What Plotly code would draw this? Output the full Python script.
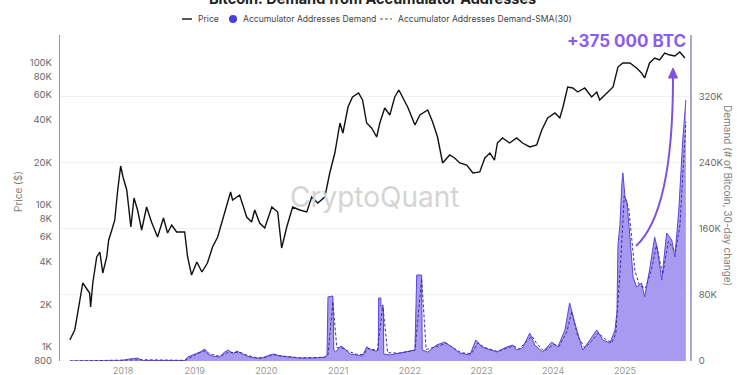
import plotly.graph_objects as go

# ---------------- data ----------------
price_dates = [
    "2017-04-05", "2017-04-30", "2017-05-15", "2017-06-10", "2017-07-15", "2017-07-20", "2017-07-31",
    "2017-08-20", "2017-09-05", "2017-09-20", "2017-10-10", "2017-10-20", "2017-11-05", "2017-11-20",
    "2017-12-05", "2017-12-20", "2018-01-01", "2018-01-20", "2018-02-10", "2018-02-26", "2018-03-16",
    "2018-04-06", "2018-05-01", "2018-05-26", "2018-06-26", "2018-07-26", "2018-08-16", "2018-09-06",
    "2018-10-01", "2018-11-11", "2018-11-26", "2018-12-16", "2019-01-12", "2019-02-07", "2019-03-07",
    "2019-04-02", "2019-04-28", "2019-05-23", "2019-07-03", "2019-07-13", "2019-08-18", "2019-09-23",
    "2019-10-18", "2019-11-03", "2019-11-28", "2019-12-24", "2020-01-29", "2020-02-28", "2020-03-19",
    "2020-04-14", "2020-05-14", "2020-06-19", "2020-07-25", "2020-08-19", "2020-09-19", "2020-10-25",
    "2020-11-19", "2020-12-15", "2021-01-10", "2021-01-25", "2021-02-20", "2021-03-15", "2021-04-15",
    "2021-05-05", "2021-05-26", "2021-06-20", "2021-07-16", "2021-08-01", "2021-08-26", "2021-09-21",
    "2021-10-16", "2021-11-06", "2021-11-26", "2021-12-21", "2022-01-27", "2022-02-21", "2022-04-02",
    "2022-04-27", "2022-05-22", "2022-06-17", "2022-07-23", "2022-08-17", "2022-09-12", "2022-10-18",
    "2022-11-18", "2022-12-23", "2023-01-18", "2023-02-13", "2023-03-08", "2023-03-23", "2023-04-18",
    "2023-05-24", "2023-06-29", "2023-07-29", "2023-09-04", "2023-10-09", "2023-11-04", "2023-12-04",
    "2024-01-10", "2024-02-04", "2024-02-20", "2024-03-15", "2024-04-10", "2024-05-05", "2024-06-10",
    "2024-07-15", "2024-08-10", "2024-08-25", "2024-10-01", "2024-11-01", "2024-11-26", "2024-12-21",
    "2025-01-26", "2025-03-01", "2025-03-26", "2025-04-11", "2025-05-06", "2025-06-01", "2025-06-26",
    "2025-07-22", "2025-08-17", "2025-09-12", "2025-10-07", "2025-11-02",
]
price_values = [
    1120, 1317, 1735, 2823, 2400, 1912, 2823,
    4303, 4667, 3320, 4303, 5668, 6667, 7842,
    12754, 18820, 15750, 12754, 7000, 11200, 9222,
    6667, 9680, 7591, 5953, 8100, 6352, 7232,
    6456, 6456, 4303, 3214, 3968, 3374, 3904,
    5060, 5953, 7842, 12345, 10844, 11760, 8231,
    7591, 9222, 7469, 6887, 9680, 8928, 4980,
    7000, 9680, 9222, 8928, 11384, 10330, 11384,
    16805, 23240, 37800, 32140, 48990, 57620, 61480,
    54880, 37800, 34850, 30120, 37800, 48200, 43040,
    57620, 64540, 57620, 48990, 36600, 43040, 46670,
    38420, 30120, 19760, 22500, 21430, 19760, 19130,
    16805, 17080, 21430, 23240, 20740, 27330, 29640,
    27330, 29640, 27330, 25620, 26450, 33750, 41000,
    44450, 41000, 48990, 67760, 66680, 62500, 66680,
    57620, 62500, 54880, 61480, 67760, 93700, 100000,
    100000, 92200, 85050, 78420, 100000, 108400, 105000,
    117600, 113800, 112000, 119500, 108400,
]

demand_dates = [
    "2017-04-05", "2017-12-16", "2018-02-05", "2018-03-16", "2018-04-11", "2018-11-11", "2018-11-26",
    "2019-01-02", "2019-01-28", "2019-02-22", "2019-03-07", "2019-04-02", "2019-05-08", "2019-06-02",
    "2019-06-23", "2019-07-13", "2019-08-03", "2019-08-23", "2019-09-23", "2019-11-03", "2019-12-09",
    "2020-01-19", "2020-02-08", "2020-03-09", "2020-04-29", "2020-06-19", "2020-09-04", "2020-10-25",
    "2020-11-05", "2020-11-10", "2020-12-05", "2020-12-10", "2020-12-19", "2021-01-15", "2021-02-05",
    "2021-03-01", "2021-04-05", "2021-05-05", "2021-05-26", "2021-06-20", "2021-07-11", "2021-07-24",
    "2021-07-26", "2021-08-06", "2021-08-07", "2021-08-19", "2021-08-21", "2021-09-21", "2021-11-11",
    "2022-01-01", "2022-01-27", "2022-02-05", "2022-03-02", "2022-03-05", "2022-04-02", "2022-05-17",
    "2022-06-27", "2022-08-02", "2022-09-12", "2022-11-03", "2022-12-03", "2023-01-03", "2023-02-13",
    "2023-03-18", "2023-05-09", "2023-06-09", "2023-06-29", "2023-07-29", "2023-09-04", "2023-09-29",
    "2023-11-09", "2023-12-25", "2024-01-25", "2024-03-01", "2024-03-25", "2024-04-20", "2024-05-31",
    "2024-07-05", "2024-08-10", "2024-09-10", "2024-10-16", "2024-11-11", "2024-11-21", "2024-11-26",
    "2024-12-06", "2024-12-16", "2024-12-21", "2025-01-01", "2025-01-11", "2025-01-26", "2025-02-11",
    "2025-03-01", "2025-03-26", "2025-04-11", "2025-05-06", "2025-06-01", "2025-06-16", "2025-07-07",
    "2025-08-01", "2025-08-27", "2025-09-12", "2025-10-02", "2025-10-22", "2025-11-07",
]
demand_values = [
    0, 300, 2400, 3600, 500, 500, 4800,
    8500, 10900, 14500, 8500, 6000, 4800, 10900,
    13300, 8500, 12100, 9700, 6000, 3600, 3600,
    7300, 8500, 6000, 4800, 3600, 3600, 4800,
    7300, 77600, 78800, 13300, 10900, 18200, 14500,
    8500, 7300, 6000, 17000, 13300, 12100, 13300,
    76400, 76400, 65500, 65500, 8500, 7300, 9700,
    12100, 13300, 104200, 104200, 13300, 10900, 19400,
    23000, 17000, 9700, 7300, 25500, 17000, 13300,
    10900, 17000, 19400, 13300, 15800, 33900, 19400,
    10900, 23000, 17000, 37600, 70300, 46100, 13300,
    25500, 37600, 25500, 21800, 37600, 60000, 140000,
    165000, 215000, 228000, 198800, 192700, 150300, 101800,
    89700, 94500, 77600, 110300, 150300, 134500, 98000,
    155100, 146700, 126000, 183000, 267900, 316300,
]

sma_dates = [
    "2017-04-05", "2018-02-20", "2018-04-20", "2018-11-15", "2018-12-10", "2019-01-15", "2019-02-25",
    "2019-03-20", "2019-05-10", "2019-06-25", "2019-07-20", "2019-08-15", "2019-09-30", "2019-11-15",
    "2019-12-20", "2020-02-05", "2020-03-20", "2020-06-19", "2020-10-25", "2020-11-10", "2020-12-05",
    "2020-12-25", "2021-01-20", "2021-02-15", "2021-04-05", "2021-05-10", "2021-06-01", "2021-07-20",
    "2021-08-16", "2021-09-10", "2021-11-11", "2022-01-27", "2022-03-02", "2022-03-25", "2022-05-25",
    "2022-07-05", "2022-08-10", "2022-09-20", "2022-11-10", "2022-12-15", "2023-01-15", "2023-03-25",
    "2023-05-15", "2023-06-15", "2023-07-10", "2023-09-15", "2023-10-10", "2023-11-15", "2024-01-05",
    "2024-02-01", "2024-03-10", "2024-04-05", "2024-05-05", "2024-06-10", "2024-07-15", "2024-08-18",
    "2024-09-20", "2024-10-25", "2024-11-15", "2024-12-10", "2024-12-28", "2025-01-20", "2025-02-20",
    "2025-03-15", "2025-04-15", "2025-05-15", "2025-06-10", "2025-07-12", "2025-08-10", "2025-09-15",
    "2025-10-08", "2025-10-28", "2025-11-07",
]
sma_values = [
    0, 1500, 1500, 800, 4500, 9000, 12500,
    8500, 5500, 11000, 10000, 11000, 6500, 3800,
    4000, 7500, 6200, 3800, 4500, 7300, 72000,
    16000, 16000, 12500, 8000, 8000, 15000, 13000,
    68000, 10000, 9500, 13000, 100000, 14000, 18000,
    21500, 16000, 10000, 9000, 22000, 16500, 11500,
    16000, 18000, 14500, 30000, 21000, 12000, 20000,
    18000, 35000, 60000, 30000, 16000, 24000, 34000,
    27000, 22000, 33000, 120000, 200000, 185000, 110000,
    92000, 88000, 110000, 140000, 105000, 145000, 132000,
    165000, 250000, 290000,
]

price_tickvals = [800, 1000, 2000, 4000, 6000, 8000, 10000, 20000, 40000, 60000, 80000, 100000]
price_ticktext = ["800", "1K", "2K", "4K", "6K", "8K", "10K", "20K", "40K", "60K", "80K", "100K"]
demand_tickvals = [0, 80000, 160000, 240000, 320000]
demand_ticktext = ["0", "80K", "160K", "240K", "320K"]

# ---------------- layout helpers ----------------
W, H = 750, 375
L, R, T, B = 60, 60, 35, 14
PW, PH = W - L - R, H - T - B


def px(x, y):
    """pixel position -> paper coordinates (for decorations only)"""
    return (x - L) / PW, (H - B - y) / PH


FONT = "Inter, Roboto, Arial, sans-serif"
PURPLE = "#8a5cf0"

fig = go.Figure()

fig.add_trace(go.Scatter(
    x=demand_dates, y=demand_values, yaxis="y", mode="lines",
    fill="tozeroy", fillcolor="#a99af1",
    line=dict(color="#5846e2", width=1), showlegend=False, hoverinfo="skip",
))
fig.add_trace(go.Scatter(
    x=sma_dates, y=sma_values, yaxis="y", mode="lines",
    line=dict(color="#3a3290", width=1, dash="3px,2px"), showlegend=False, hoverinfo="skip",
))
fig.add_trace(go.Scatter(
    x=price_dates, y=price_values, yaxis="y2", mode="lines",
    line=dict(color="#111111", width=1.4), showlegend=False, hoverinfo="skip",
))

fig.update_layout(
    width=W, height=H,
    margin=dict(l=L, r=R, t=T, b=B, pad=0, autoexpand=False),
    paper_bgcolor="white", plot_bgcolor="white",
    font=dict(family=FONT, color="#666"),
    xaxis=dict(
        type="date", range=["2017-02-14", "2025-11-28"], automargin=False,
        tick0="2018-01-01", dtick="M12", tickformat="%Y",
        showgrid=False, zeroline=False, showline=False,
        ticks="outside", ticklen=1, tickcolor="rgba(0,0,0,0)",
        tickfont=dict(size=9, color="#9a9a9a"),
    ),
    yaxis=dict(
        side="right", range=[0, 395100], automargin=False,
        tickvals=demand_tickvals, ticktext=demand_ticktext,
        showgrid=True, gridcolor="#f1f1f4", gridwidth=1, zeroline=False,
        showline=True, linecolor="#aaa3dc", linewidth=1.6,
        ticks="outside", ticklen=5, tickcolor="rgba(0,0,0,0)",
        tickfont=dict(size=9.5, color="#666"),
    ),
    yaxis2=dict(
        type="log", side="left", overlaying="y", automargin=False,
        range=[2.9014, 5.1972],
        tickvals=price_tickvals, ticktext=price_ticktext,
        showgrid=False, zeroline=False,
        showline=True, linecolor="#999999", linewidth=1.2,
        ticks="outside", ticklen=5, tickcolor="rgba(0,0,0,0)",
        tickfont=dict(size=9.5, color="#666"),
    ),
)

ann = []
# title (partially cut at the top, as in the reference)
tx, ty = px(372, -1)
ann.append(dict(text="<b>Bitcoin: Demand from Accumulator Addresses</b>", x=tx, y=ty,
                xref="paper", yref="paper", xanchor="center", yanchor="middle",
                showarrow=False, font=dict(size=14.5, color="#222", family=FONT)))
# legend texts
for label, xpix in [("Price", 196), ("Accumulator Addresses Demand", 241),
                    ("Accumulator Addresses Demand-SMA(30)", 396)]:
    lx, ly = px(xpix, 19)
    ann.append(dict(text=label, x=lx, y=ly, xref="paper", yref="paper",
                    xanchor="left", yanchor="middle", showarrow=False,
                    font=dict(size=8.6, color="#444", family=FONT)))
# axis titles
ax_, ay_ = px(18, 192)
ann.append(dict(text="Price ($)", x=ax_, y=ay_, xref="paper", yref="paper", textangle=-90,
                xanchor="center", yanchor="middle", showarrow=False,
                font=dict(size=10, color="#808080", family=FONT)))
bx_, by_ = px(728, 195)
ann.append(dict(text="Demand (# of Bitcoin, 30-day change)", x=bx_, y=by_, xref="paper", yref="paper",
                textangle=90, xanchor="center", yanchor="middle", showarrow=False,
                font=dict(size=10, color="#808080", family=FONT)))
# watermark
wx, wy = px(374, 197)
ann.append(dict(text="CryptoQuant", x=wx, y=wy, xref="paper", yref="paper",
                xanchor="center", yanchor="middle", showarrow=False,
                font=dict(size=28, color="#d4d4d4", family=FONT)))
# callout
cx_, cy_ = px(626, 41)
ann.append(dict(text="<b>+375 000 BTC</b>", x=cx_, y=cy_, xref="paper", yref="paper",
                xanchor="center", yanchor="middle", showarrow=False,
                font=dict(size=17, color=PURPLE, family=FONT)))
fig.update_layout(annotations=ann)

shapes = []
# legend symbols
a0, b0 = px(182, 19); a1, _ = px(192, 19)
shapes.append(dict(type="line", xref="paper", yref="paper", x0=a0, y0=b0, x1=a1, y1=b0,
                   line=dict(color="#222", width=1.5)))
c0x, c0y = px(229, 15); c1x, c1y = px(237, 23)
shapes.append(dict(type="circle", xref="paper", yref="paper", x0=c0x, y0=c1y, x1=c1x, y1=c0y,
                   fillcolor="#4a3ee3", line=dict(width=0)))
d0, e0 = px(380, 19); d1, _ = px(392, 19)
shapes.append(dict(type="line", xref="paper", yref="paper", x0=d0, y0=e0, x1=d1, y1=e0,
                   line=dict(color="#555", width=1, dash="3px,2px")))
# curved arrow
s = px(636, 246); c = px(673, 212); e = px(673, 78)
shapes.append(dict(type="path", xref="paper", yref="paper",
                   path=f"M {s[0]},{s[1]} Q {c[0]},{c[1]} {e[0]},{e[1]}",
                   line=dict(color="#7d52dc", width=2)))
t1 = px(673, 68); t2 = px(668.5, 78); t3 = px(677.5, 78)
shapes.append(dict(type="path", xref="paper", yref="paper",
                   path=f"M {t1[0]},{t1[1]} L {t2[0]},{t2[1]} L {t3[0]},{t3[1]} Z",
                   fillcolor="#7d52dc", line=dict(color="#7d52dc", width=1)))
fig.update_layout(shapes=shapes)

fig.write_html("out.html")
